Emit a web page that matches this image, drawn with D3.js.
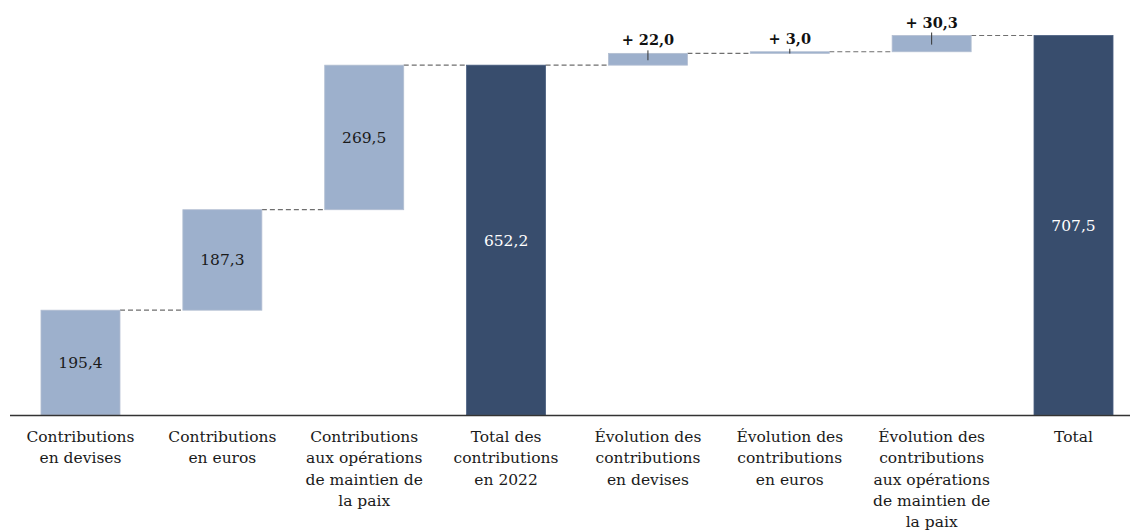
<!DOCTYPE html>
<html><head><meta charset="utf-8">
<script src="https://cdn.jsdelivr.net/npm/d3@7"></script>
<style>body{margin:0;background:#fff}svg{display:block}</style>
</head><body>
<svg id="c" width="1131" height="530"></svg>
<script>
const categories = [
  ["Contributions","en devises"],
  ["Contributions","en euros"],
  ["Contributions","aux opérations","de maintien de","la paix"],
  ["Total des","contributions","en 2022"],
  ["Évolution des","contributions","en devises"],
  ["Évolution des","contributions","en euros"],
  ["Évolution des","contributions","aux opérations","de maintien de","la paix"],
  ["Total"]
];
const values = [195.4, 187.3, 269.5, 652.2, 22.0, 3.0, 30.3, 707.5];
const kinds = ["step","step","step","total","delta","delta","delta","total"];
const valueLabels = ["195,4","187,3","269,5","652,2","+ 22,0","+ 3,0","+ 30,3","707,5"];

const svg = d3.select("#c");
const font = "'DejaVu Serif', serif";
const fs = "15.5px";
const x = d3.scaleBand().domain(d3.range(values.length)).range([26.8, 1127.2]).paddingInner(0.443).paddingOuter(0.1);
const y = d3.scaleLinear().domain([0, 707.5]).range([415, 35.5]);

let cum = 0;
const bars = values.map((v, i) => {
  let lo, hi;
  if (kinds[i] === "total") { lo = 0; hi = v; cum = v; }
  else { lo = cum; hi = cum + v; cum = hi; }
  return {i, v, lo, hi, kind: kinds[i], label: valueLabels[i]};
});

const conn = svg.append("g");
bars.slice(0, -1).forEach((b, k) => {
  const n = bars[k + 1];
  conn.append("line")
    .attr("x1", x(b.i) + x.bandwidth()).attr("x2", x(n.i))
    .attr("y1", y(b.hi)).attr("y2", y(b.hi))
    .attr("stroke", "#6f6f6f").attr("stroke-width", 1.2).attr("stroke-dasharray", "5,3");
});

svg.append("g").selectAll("rect").data(bars).join("rect")
  .attr("x", d => x(d.i)).attr("width", x.bandwidth())
  .attr("y", d => y(d.hi)).attr("height", d => Math.max(1.5, y(d.lo) - y(d.hi)))
  .attr("fill", d => d.kind === "total" ? "#384d6d" : "#9db0cc")
  .attr("stroke", d => d.kind === "total" ? "#4a5f80" : "#b3bfd2").attr("stroke-width", 0.8);

svg.append("g").selectAll("text").data(bars.filter(d => d.kind !== "delta")).join("text")
  .attr("x", d => x(d.i) + x.bandwidth() / 2)
  .attr("y", d => (y(d.lo) + y(d.hi)) / 2)
  .attr("dy", "0.35em").attr("text-anchor", "middle")
  .style("font-family", font).style("font-size", fs)
  .attr("fill", d => d.kind === "total" ? "#ffffff" : "#1a1a1a")
  .text(d => d.label);

const deltas = bars.filter(d => d.kind === "delta");
svg.append("g").selectAll("line").data(deltas).join("line")
  .attr("x1", d => x(d.i) + x.bandwidth() / 2).attr("x2", d => x(d.i) + x.bandwidth() / 2)
  .attr("y1", d => y(d.hi) - 3).attr("y2", d => (y(d.lo) + y(d.hi)) / 2 + 1)
  .attr("stroke", "#333").attr("stroke-width", 1);
svg.append("g").selectAll("text").data(deltas).join("text")
  .attr("x", d => x(d.i) + x.bandwidth() / 2)
  .attr("y", d => y(d.hi) - 8)
  .attr("text-anchor", "middle")
  .style("font-family", font).style("font-size", "14.5px").style("font-weight", "bold")
  .attr("fill", "#111")
  .text(d => d.label);

svg.append("line").attr("x1", 10).attr("x2", 1130).attr("y1", y(0) + 0.5).attr("y2", y(0) + 0.5)
  .attr("stroke", "#333").attr("stroke-width", 1.3);

const cat = svg.append("g").selectAll("text").data(categories).join("text")
  .attr("text-anchor", "middle")
  .style("font-family", font).style("font-size", fs).attr("fill", "#1a1a1a")
  .attr("transform", (d, i) => `translate(${x(i) + x.bandwidth() / 2},442)`);
cat.selectAll("tspan").data(d => d).join("tspan")
  .attr("x", 0).attr("y", (d, j) => j * 21.3).text(d => d);
</script>
</body></html>
